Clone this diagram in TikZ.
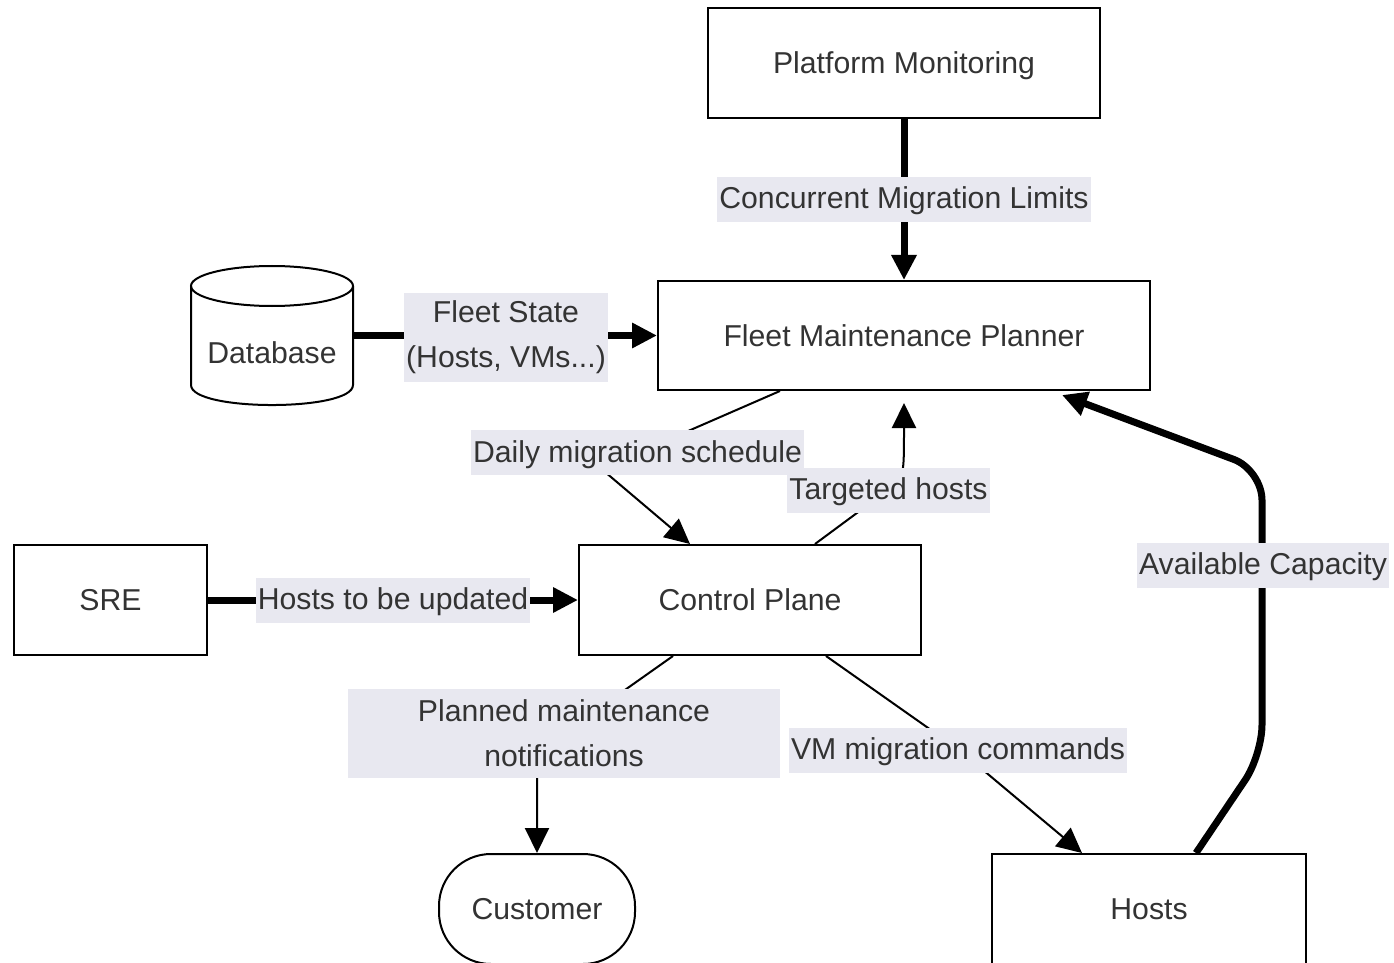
\documentclass[tikz,border=0pt]{standalone}
\usepackage{fontspec}
\setmainfont{Liberation Sans}
\usetikzlibrary{arrows.meta,calc}
\definecolor{inkgray}{RGB}{51,51,51}
\definecolor{lblfill}{RGB}{232,232,240}
\tikzset{every picture/.style={line width=1pt}}
\tikzset{
  box/.style={draw, minimum height=55pt, inner sep=0pt, text=inkgray, text height=12.5pt, text depth=2pt},
  lblbase/.style={fill=lblfill, text=inkgray, inner xsep=1pt},
  lbl/.style={lblbase, inner ysep=4pt, text height=12pt, text depth=2.5pt},
  lbltwo/.style={lblbase, inner ysep=0pt, align=center, minimum height=44.5pt},
  thinarr/.style={line width=1pt, -{Triangle[length=12.5pt,width=12pt]}},
  thickarr/.style={line width=3.5pt, -{Triangle[length=12.5pt,width=12pt]}},
}

\begin{document}
\begin{tikzpicture}[x=0.5pt,y=0.5pt,yscale=-1,xscale=1,font=\fontsize{15.1}{22.5}\selectfont]
\useasboundingbox (0,0) rectangle (1394,963);
\clip (0,0) rectangle (1394,963);

% Boxes
\node[box, minimum width=196pt] (pm) at (904,63) {Platform Monitoring};
\node[box, minimum width=246pt, minimum height=54.5pt] (fmp) at (904,335.5) {Fleet Maintenance Planner};
\node[box, minimum width=171pt] (cp) at (750,600) {Control Plane};
\node[box, minimum width=96.5pt] (sre) at (110.5,600) {SRE};
\node[box, minimum width=98pt, rounded corners=26pt] (cust) at (537,909) {Customer};
\node[box, minimum width=157pt] (hosts) at (1149,909) {Hosts};

%Shape: Can
\draw (191,286) -- (191,385) .. controls (191,411.7) and (353,411.7) .. (353,385) -- (353,286) ;
\draw (272,286) ellipse [x radius=81, y radius=20] ;
% Text Node
\node[inner sep=0pt, minimum width=81pt, text=inkgray] (db) at (272,353) {Database};

% Thick Lines
\draw[thickarr] (pm) -- (fmp);
\draw[thickarr] (db.east |- fmp.west) -- (fmp.west);
\draw[thickarr] (sre) -- (cp);
\draw[thickarr, rounded corners=15pt] (hosts.north -| 1196,0) -- (1262,755) -- (1262,470) -- ($(fmp.south -| 1062,0)+(0,4)$);

% Thin Lines
\draw[thinarr] (fmp.south -| 780,0) -- (640,452) -- (585,455) -- (cp.north -| 690,0);
\draw[thinarr] (cp.north -| 815,0) -- (888,490) .. controls (904,478) .. ($(fmp.south)+(0,12)$);
\draw[thinarr] (cp.south -| 673,0) -- (564,733) -- (cust.north |- 564,760) -- (cust.north);
\draw[thinarr] (cp.south -| 826,0) -- (958,749) -- (hosts.north -| 1082,0);

% Edge Labels
\node[lbl] (conc) at (904,199.5) {Concurrent Migration Limits};
\node[lbltwo] (fleet) at (506,337) {Fleet State\\(Hosts, VMs...)};
\node[lbl] (sched) at (637.5,452.5) {Daily migration schedule};
\node[lbl] (targ) at (888.5,490) {Targeted hosts};
\node[lbl] (upd) at (393,600) {Hosts to be updated};
\node[lbltwo, minimum width=216pt] (plan) at (564,733.5) {Planned maintenance\\notifications};
\node[lbl] (vmcmd) at (958,750) {VM migration commands};
\node[lbl] (cap) at (1263,565) {Available Capacity};

\end{tikzpicture}
\end{document}
